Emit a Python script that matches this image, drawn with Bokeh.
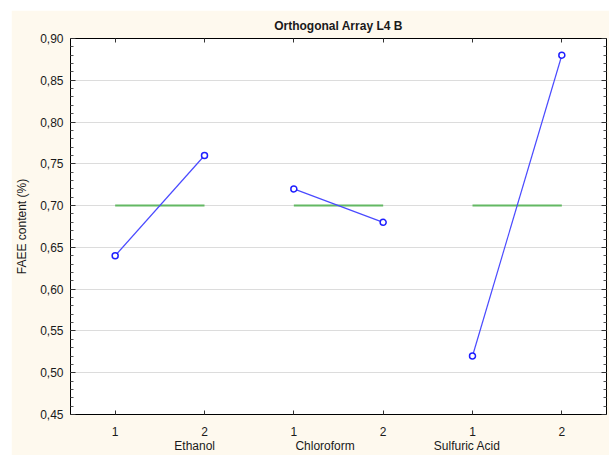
from bokeh.plotting import figure
from bokeh.models import Range1d, FixedTicker, LinearAxis, CustomJSTickFormatter, Grid
from bokeh.embed import file_html
from bokeh.resources import INLINE

# Factor main effects for the L4 orthogonal array (FAEE content, %)
factors = ["Ethanol", "Chloroform", "Sulfuric Acid"]
levels = ["1", "2"]
level_1 = [0.64, 0.72, 0.52]
level_2 = [0.76, 0.68, 0.88]
y_ticks = [0.45, 0.50, 0.55, 0.60, 0.65, 0.70, 0.75, 0.80, 0.85, 0.90]

FONT = "Liberation Sans"
TXT = "#1a1a1a"
BLUE_LINE = "#4a4aff"
BLUE_MARK = "#1f1fff"
GREEN = "#63b863"

# x positions: each factor occupies two slots (level 1, level 2)
n = len(factors)
x1 = [2 * i for i in range(n)]
x2 = [2 * i + 1 for i in range(n)]
means = [(a + b) / 2 for a, b in zip(level_1, level_2)]

p = figure(width=598, height=445, output_backend="svg", toolbar_location=None,
           x_range=Range1d(-0.5, 2 * n - 0.5), y_range=Range1d(y_ticks[0], y_ticks[-1]),
           x_axis_location=None, y_axis_location=None,
           min_border_left=59, min_border_right=3, min_border_top=28, min_border_bottom=41,
           background_fill_color="white", border_fill_color="#fef9ee",
           outline_line_color="black", outline_line_width=1,
           margin=(10, 0, 0, 11))

# drop the default grids; only horizontal lines at the major y ticks are drawn
p.center = []

p.title.text = "Orthogonal Array L4 B"
p.title.align = "center"
p.title.text_font = FONT
p.title.text_font_size = "12px"
p.title.text_font_style = "bold"
p.title.text_color = TXT
p.title.standoff = 11

minor = [round(t + k * 0.01, 2) for t in y_ticks[:-1] for k in range(1, 5)]
y_ticker = FixedTicker(ticks=y_ticks, minor_ticks=minor)
x_ticker = FixedTicker(ticks=x1 + x2)

blank = CustomJSTickFormatter(code="return ''")

left = LinearAxis(ticker=y_ticker,
                  formatter=CustomJSTickFormatter(code="return tick.toFixed(2).replace('.', ',')"),
                  axis_label="FAEE content (%)",
                  axis_line_color=None,
                  major_tick_in=5, major_tick_out=0, minor_tick_in=3, minor_tick_out=0,
                  major_tick_line_color="#333333", minor_tick_line_color="#555555",
                  major_label_standoff=7, axis_label_standoff=8,
                  major_label_text_font=FONT, major_label_text_font_size="12px",
                  major_label_text_color=TXT,
                  axis_label_text_font=FONT, axis_label_text_font_size="12px",
                  axis_label_text_font_style="normal", axis_label_text_color=TXT)
p.add_layout(left, "left")

right = LinearAxis(ticker=y_ticker, formatter=blank, axis_line_color=None,
                   major_tick_in=5, major_tick_out=0, minor_tick_in=3, minor_tick_out=0,
                   major_tick_line_color="#333333", minor_tick_line_color="#555555",
                   major_label_standoff=0, major_label_text_font_size="0px")
p.add_layout(right, "right")

top = LinearAxis(ticker=x_ticker, formatter=blank, axis_line_color=None,
                 major_tick_in=4, major_tick_out=0, minor_tick_line_color=None,
                 major_tick_line_color="#333333",
                 major_label_standoff=0, major_label_text_font_size="0px")
p.add_layout(top, "above")

bottom = LinearAxis(ticker=x_ticker,
                    formatter=CustomJSTickFormatter(args=dict(levels=levels),
                                                    code="return levels[Math.round(tick) % 2]"),
                    axis_line_color=None,
                    major_tick_in=4, major_tick_out=0, minor_tick_line_color=None,
                    major_tick_line_color="#333333",
                    major_label_standoff=12,
                    major_label_text_font=FONT, major_label_text_font_size="12px",
                    major_label_text_color=TXT)
p.add_layout(bottom, "below")

# factor names row under the level labels, evenly spread across the axis
label_x = [0.89, 2.35, 3.94]
names = LinearAxis(ticker=FixedTicker(ticks=label_x),
                   formatter=CustomJSTickFormatter(args=dict(names=factors),
                                                   code="return names[index]"),
                   axis_line_color=None, major_tick_line_color=None, minor_tick_line_color=None,
                   major_tick_in=0, major_tick_out=0, major_label_standoff=0,
                   major_label_text_font=FONT, major_label_text_font_size="12px",
                   major_label_text_color=TXT)
p.add_layout(names, "below")

p.add_layout(Grid(dimension=1, ticker=y_ticker, grid_line_color="#dcdcdc", grid_line_width=1))

# grand-mean reference line per factor
p.multi_line(xs=[[a, b] for a, b in zip(x1, x2)], ys=[[m, m] for m in means],
             line_color=GREEN, line_width=2)

# level means
p.multi_line(xs=[[a, b] for a, b in zip(x1, x2)],
             ys=[[a, b] for a, b in zip(level_1, level_2)],
             line_color=BLUE_LINE, line_width=1.2)
p.scatter(x1 + x2, level_1 + level_2, marker="circle", size=6,
          fill_color="white", line_color=BLUE_MARK, line_width=1.5)

open("out.html", "w").write(file_html(p, INLINE))
